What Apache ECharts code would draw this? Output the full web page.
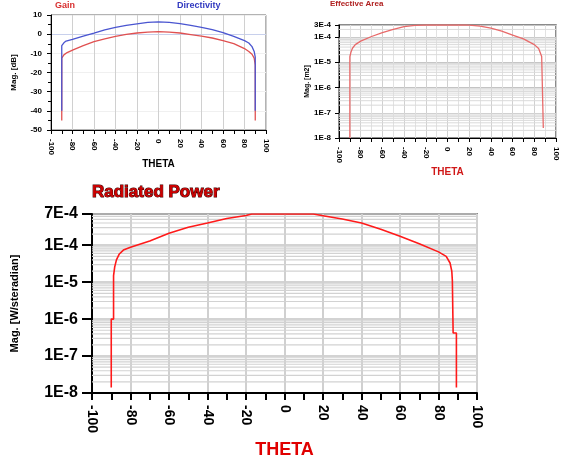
<!DOCTYPE html>
<html><head><meta charset="utf-8">
<script src="https://cdn.jsdelivr.net/npm/echarts@6/dist/echarts.min.js"></script>
<style>html,body{margin:0;padding:0;background:#fff}#c{width:563px;height:461px}</style>
</head><body><div id="c"></div>
<script>
// ---- data ----
const thetaRange = [-100, 100];
const thetaStep = 20;
const dbRange = [-50, 10];
const dbStep = 10;
const areaRange = [1e-8, 3e-4];
const powerRange = [1e-8, 7e-4];

const gainTheta = [-90, -90, -88, -85, -80, -70, -60, -50, -40, -30, -20, -10, 0, 10, 20, 30, 40, 50, 60, 70, 80, 84, 87, 89, 90, 90];
const gainDb    = [-45, -12.5, -10.8, -9.6, -8.3, -6.0, -3.9, -2.4, -1.1, -0.1, 0.6, 1.1, 1.3, 1.1, 0.6, -0.2, -1.0, -2.0, -3.4, -4.9, -7.5, -9.0, -10.5, -12.5, -16, -45];

const dirTheta  = [-90, -90, -88, -86, -80, -70, -60, -50, -40, -30, -20, -10, 0, 10, 20, 30, 40, 50, 60, 70, 80, 84, 87, 89, 90, 90];
const dirDb     = [-40, -6, -4.5, -3.6, -2.7, -1.0, 0.5, 2.2, 3.6, 4.6, 5.4, 6.1, 6.4, 6.1, 5.5, 4.6, 3.6, 2.4, 0.8, -1.2, -3.4, -4.6, -6.5, -9, -12, -40];

const areaTheta = [-90, -90, -89, -87.6, -85, -80, -70, -60, -50, -40, -30, -20, 0, 16, 20, 30, 40, 50, 60, 70, 80, 84, 86.8, 88.3, 88.3];
const areaM2    = [1e-8, 1.66e-5, 2.5e-5, 3.6e-5, 5e-5, 6.9e-5, 1.05e-4, 1.5e-4, 2.0e-4, 2.6e-4, 2.9e-4, 3e-4, 3e-4, 3e-4, 2.95e-4, 2.7e-4, 2.25e-4, 1.7e-4, 1.2e-4, 8.5e-5, 5e-5, 3.5e-5, 1.7e-5, 1.7e-5, 2.5e-8];

const powerTheta = [-90, -90, -88.8, -88.8, -88.2, -87.3, -85.8, -83.7, -80, -70, -60, -50, -40, -30, -20, -17, -10, 0, 10, 15, 20, 30, 40, 50, 60, 70, 80, 84, 86, 86.9, 87.2, 87.6, 89.3, 89.3];
const powerW     = [1.4e-8, 1e-6, 1e-6, 1.5e-5, 2.6e-5, 4e-5, 5.8e-5, 7.4e-5, 8.8e-5, 1.3e-4, 2.1e-4, 3.05e-4, 4.0e-4, 5.3e-4, 6.4e-4, 7e-4, 7e-4, 7e-4, 7e-4, 7e-4, 6.3e-4, 5.1e-4, 4.0e-4, 2.7e-4, 1.75e-4, 1.1e-4, 6.6e-5, 5e-5, 3.3e-5, 2e-5, 1.1e-5, 4.2e-7, 4.2e-7, 1.4e-8];

// ---- helpers ----
const pairs = (t, v) => t.map((x, i) => [x, v[i]]);
function sci(v) {
  const e = Math.floor(Math.log10(v) + 1e-9);
  const m = Math.round(v / Math.pow(10, e));
  return m + 'E' + e;
}
// log-scale minor grid positions (2..9 x 10^n) drawn as horizontal rules across the plot
function minorGridData(lo, hi) {
  const out = [];
  for (let e = Math.floor(Math.log10(lo)); e <= Math.ceil(Math.log10(hi)); e++) {
    for (let k = 2; k <= 9; k++) {
      const v = k * Math.pow(10, e);
      if (v > lo * 1.001 && v < hi * 0.999) {
        out.push([thetaRange[0], v], [thetaRange[1], v], [thetaRange[1], '-']);
      }
    }
  }
  return out;
}
const FONT = 'Liberation Sans, Arial, sans-serif';

const chart = echarts.init(document.getElementById('c'), null, { renderer: 'canvas' });

function xAx(grid, fs, margin, tickLen, nameColor, nameSize, nameGap, lineW, minorGrid) {
  return {
    gridIndex: grid, type: 'value', min: thetaRange[0], max: thetaRange[1], interval: thetaStep,
    name: 'THETA', nameLocation: 'middle', nameGap: nameGap,
    nameTextStyle: { color: nameColor, fontSize: nameSize, fontWeight: 'bold', fontFamily: FONT },
    axisLine: { show: true, onZero: false, lineStyle: { color: '#000', width: lineW } },
    axisTick: { show: true, length: tickLen, lineStyle: { color: '#000', width: lineW } },
    minorTick: { show: true, splitNumber: 2, length: tickLen, lineStyle: { color: '#000', width: lineW } },
    axisLabel: { rotate: -90, margin: margin, color: '#000', fontSize: fs, fontWeight: 'bold', fontFamily: FONT },
    splitLine: { show: true, lineStyle: { color: '#d0d0d0', width: lineW } },
    minorSplitLine: { show: !!minorGrid, lineStyle: { color: '#e2e2e2', width: 1 } }
  };
}

function gridRule(xi, yi, lo, hi, color, width) {
  return {
    type: 'line', xAxisIndex: xi, yAxisIndex: yi, data: minorGridData(lo, hi),
    showSymbol: false, silent: true, connectNulls: false, z: 1,
    lineStyle: { color: color, width: width }, itemStyle: { color: color }
  };
}

const option = {
  backgroundColor: '#fff',
  animation: false,
  title: [
    { text: 'Gain', left: 55, top: 1, padding: 0, textStyle: { fontSize: 9, fontWeight: 'bold', color: '#d83030', fontFamily: FONT } },
    { text: 'Directivity', left: 177, top: 1, padding: 0, textStyle: { fontSize: 9, fontWeight: 'bold', color: '#3038c0', fontFamily: FONT } },
    { text: 'Effective Area', left: 330, top: 0, padding: 0, textStyle: { fontSize: 8, fontWeight: 'bold', color: '#b02020', fontFamily: FONT } },
    { text: 'Radiated Power', left: 92, top: 184, padding: 0, textStyle: { fontSize: 17, fontWeight: 'bold', color: '#cc0000', textBorderColor: '#3a0000', textBorderWidth: 1, fontFamily: FONT } }
  ],
  grid: [
    { left: 51, top: 15, width: 215, height: 115, show: true, borderColor: '#666', borderWidth: 1 },
    { left: 339, top: 25, width: 217, height: 113, show: true, borderColor: '#666', borderWidth: 1.5 },
    { left: 92, top: 214, width: 385, height: 179, show: true, borderColor: '#333', borderWidth: 1.5 }
  ],
  xAxis: [
    xAx(0, 8, 9, 4, '#000', 10, 28, 1, false),
    xAx(1, 8, 9, 4, '#d01818', 10, 28, 1, true),
    xAx(2, 14, 12, 7, '#e00000', 18, 48, 2, false)
  ],
  yAxis: [
    {
      gridIndex: 0, type: 'value', min: dbRange[0], max: dbRange[1], interval: dbStep,
      name: 'Mag. [dB]', nameLocation: 'middle', nameGap: 33,
      nameTextStyle: { color: '#000', fontSize: 8, fontWeight: 'bold', fontFamily: FONT },
      axisLine: { show: true, onZero: false, lineStyle: { color: '#000', width: 1 } },
      axisTick: { show: true, length: 4, lineStyle: { color: '#000' } },
      minorTick: { show: true, splitNumber: 2, length: 3, lineStyle: { color: '#000' } },
      axisLabel: { margin: 9, color: '#000', fontSize: 8, fontWeight: 'bold', fontFamily: FONT },
      splitLine: { show: true, lineStyle: { color: ['#f0f0f0', '#f0f0f0', '#f0f0f0', '#f0f0f0', '#f0f0f0', '#c8d0ec', '#f0f0f0'], width: 1 } }
    },
    {
      gridIndex: 1, type: 'log', logBase: 10, min: areaRange[0], max: areaRange[1],
      name: 'Mag. [m2]', nameLocation: 'middle', nameGap: 20,
      nameTextStyle: { color: '#000', fontSize: 7, fontWeight: 'bold', fontFamily: FONT },
      axisLine: { show: true, onZero: false, lineStyle: { color: '#000', width: 1 } },
      axisTick: { show: true, length: 4, lineStyle: { color: '#000' } },
      axisLabel: { margin: 8, color: '#000', fontSize: 8, fontWeight: 'bold', fontFamily: FONT, formatter: sci },
      splitLine: { show: true, lineStyle: { color: '#c4c4c4', width: 1 } }
    },
    {
      gridIndex: 2, type: 'log', logBase: 10, min: powerRange[0], max: powerRange[1],
      name: 'Mag. [W/steradian]', nameLocation: 'middle', nameGap: 72,
      nameTextStyle: { color: '#000', fontSize: 11, fontWeight: 'bold', fontFamily: FONT },
      axisLine: { show: true, onZero: false, lineStyle: { color: '#000', width: 2 } },
      axisTick: { show: true, length: 10, lineStyle: { color: '#000', width: 2 } },
      axisLabel: { margin: 14, color: '#000', fontSize: 16, fontWeight: 'bold', fontFamily: FONT, formatter: sci },
      splitLine: { show: true, lineStyle: { color: '#c4c4c4', width: 1.5 } }
    }
  ],
  series: [
    { type: 'line', xAxisIndex: 0, yAxisIndex: 0, data: pairs(gainTheta, gainDb), showSymbol: false, z: 10,
      lineStyle: { color: '#e05050', width: 1.3 }, itemStyle: { color: '#e05050' } },
    { type: 'line', xAxisIndex: 0, yAxisIndex: 0, data: pairs(dirTheta, dirDb), showSymbol: false, z: 10,
      lineStyle: { color: '#4a55d0', width: 1.3 }, itemStyle: { color: '#4a55d0' } },
    gridRule(1, 1, areaRange[0], areaRange[1], '#dadada', 1),
    { type: 'line', xAxisIndex: 1, yAxisIndex: 1, data: pairs(areaTheta, areaM2), showSymbol: false, z: 10,
      lineStyle: { color: '#e86a6a', width: 1.3 }, itemStyle: { color: '#e86a6a' } },
    gridRule(2, 2, powerRange[0], powerRange[1], '#d2d2d2', 1.2),
    { type: 'line', xAxisIndex: 2, yAxisIndex: 2, data: pairs(powerTheta, powerW), showSymbol: false, z: 10,
      lineStyle: { color: '#ff1a1a', width: 1.6 }, itemStyle: { color: '#ff1a1a' } }
  ]
};
chart.setOption(option);
</script>
</body></html>
